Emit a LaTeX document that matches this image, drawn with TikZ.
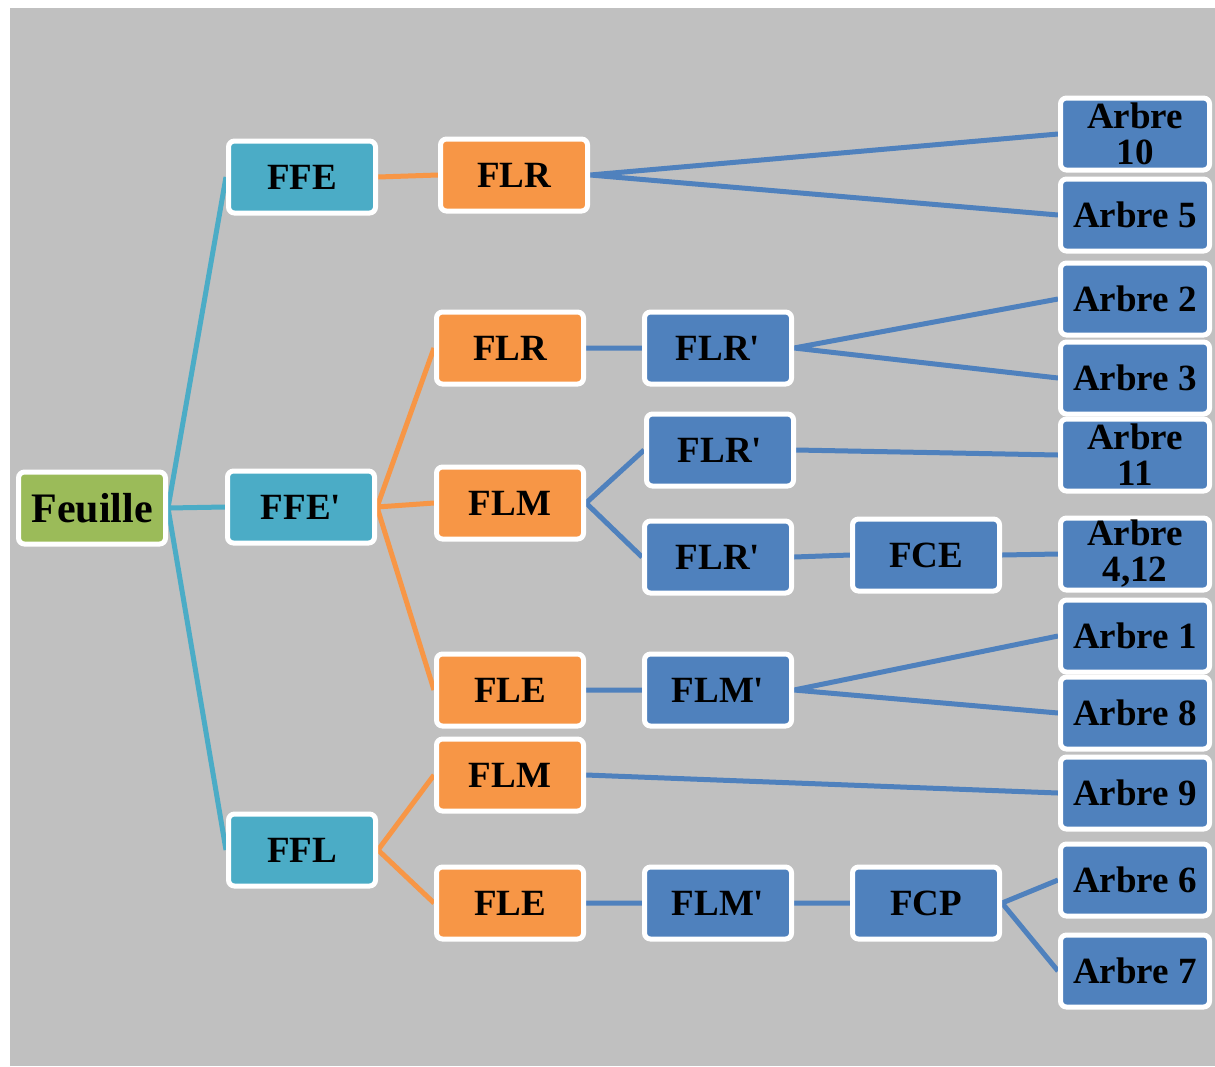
\documentclass[tikz,border=0pt]{standalone}
\usepackage{fontspec}
\setmainfont{Liberation Serif}
\definecolor{bggray}{HTML}{C0C0C0}
\definecolor{leafgreen}{HTML}{9BBB59}
\definecolor{teal}{HTML}{4BACC6}
\definecolor{orng}{HTML}{F79646}
\definecolor{steel}{HTML}{4F81BD}
\newcommand{\pr}{\textquotesingle}
\pgfdeclarelayer{canvas}
\pgfdeclarelayer{links}
\pgfsetlayers{canvas,links,main}
\begin{document}
\begin{tikzpicture}[x=1pt,y=-1pt,
  box/.style={draw=white,line width=5pt,rounded corners=6pt,
    minimum width=147pt,minimum height=72pt,inner sep=0pt,align=center,
    font=\fontsize{37}{36}\selectfont\bfseries,text=black},
  rootbox/.style={box,fill=leafgreen,font=\fontsize{42}{40}\selectfont\bfseries},
  tealbox/.style={box,fill=teal},
  orangebox/.style={box,fill=orng},
  bluebox/.style={box,fill=steel},
  treebox/.style={bluebox,minimum width=149pt},
  tealline/.style={draw=teal,line width=5pt},
  orangeline/.style={draw=orng,line width=5pt},
  blueline/.style={draw=steel,line width=5pt}]
\useasboundingbox (0,0) rectangle (1215,1066);
\begin{pgfonlayer}{canvas}
\fill[bggray] (10,8) rectangle (1215,1066);
\end{pgfonlayer}

% level 0 and 1
\node[rootbox] (feuille) at (92,508) {Feuille};
\node[tealbox] (ffe)  at (302,177) {FFE};
\node[tealbox] (ffep) at (301,507) {FFE\pr};
\node[tealbox] (ffl)  at (302,850) {FFL};

% level 2
\node[orangebox] (flrA) at (514,175) {FLR};
\node[orangebox] (flrB) at (510,348) {FLR};
\node[orangebox] (flmA) at (510,503) {FLM};
\node[orangebox] (fleA) at (510,690) {FLE};
\node[orangebox] (flmB) at (510,775) {FLM};
\node[orangebox] (fleB) at (510,903) {FLE};

% level 3 and 4
\node[bluebox] (flrpA) at (718,348) {FLR\pr};
\node[bluebox] (flrpB) at (720,450) {FLR\pr};
\node[bluebox] (flrpC) at (718,557) {FLR\pr};
\node[bluebox] (flmpA) at (718,690) {FLM\pr};
\node[bluebox] (flmpB) at (718,903) {FLM\pr};
\node[bluebox] (fce) at (926,555) {FCE};
\node[bluebox] (fcp) at (926,903) {FCP};

% trees
\node[treebox] (a10) at (1135,134) {Arbre\\10};
\node[treebox] (a5)  at (1135,215) {Arbre 5};
\node[treebox] (a2)  at (1135,299) {Arbre 2};
\node[treebox] (a3)  at (1135,378) {Arbre 3};
\node[treebox] (a11) at (1135,455) {Arbre\\11};
\node[treebox] (a412) at (1135,554) {Arbre\\4,12};
\node[treebox] (a1)  at (1135,636) {Arbre 1};
\node[treebox] (a8)  at (1135,713) {Arbre 8};
\node[treebox] (a9)  at (1135,793) {Arbre 9};
\node[treebox] (a6)  at (1135,880) {Arbre 6};
\node[treebox] (a7)  at (1135,971) {Arbre 7};

% connectors, kept beneath the boxes
\begin{pgfonlayer}{links}
\path[tealline] (feuille.east) -- (ffe.west)
  (feuille.east) -- (ffep.west)
  (feuille.east) -- (ffl.west);
\path[orangeline] (ffe.east) -- (flrA.west)
  (ffep.east) -- (flrB.west)
  (ffep.east) -- (flmA.west)
  (ffep.east) -- (fleA.west)
  (ffl.east) -- (flmB.west)
  (ffl.east) -- (fleB.west);
\path[blueline] (flrA.east) -- (a10.west)
  (flrA.east) -- (a5.west)
  (flrB.east) -- (flrpA.west)
  (flrpA.east) -- (a2.west)
  (flrpA.east) -- (a3.west)
  (flmA.east) -- (flrpB.west)
  (flmA.east) -- (flrpC.west)
  (flrpB.east) -- (a11.west)
  (flrpC.east) -- (fce.west)
  (fce.east) -- (a412.west)
  (fleA.east) -- (flmpA.west)
  (flmpA.east) -- (a1.west)
  (flmpA.east) -- (a8.west)
  (flmB.east) -- (a9.west)
  (fleB.east) -- (flmpB.west)
  (flmpB.east) -- (fcp.west)
  (fcp.east) -- (a6.west)
  (fcp.east) -- (a7.west);
\end{pgfonlayer}
\end{tikzpicture}
\end{document}
